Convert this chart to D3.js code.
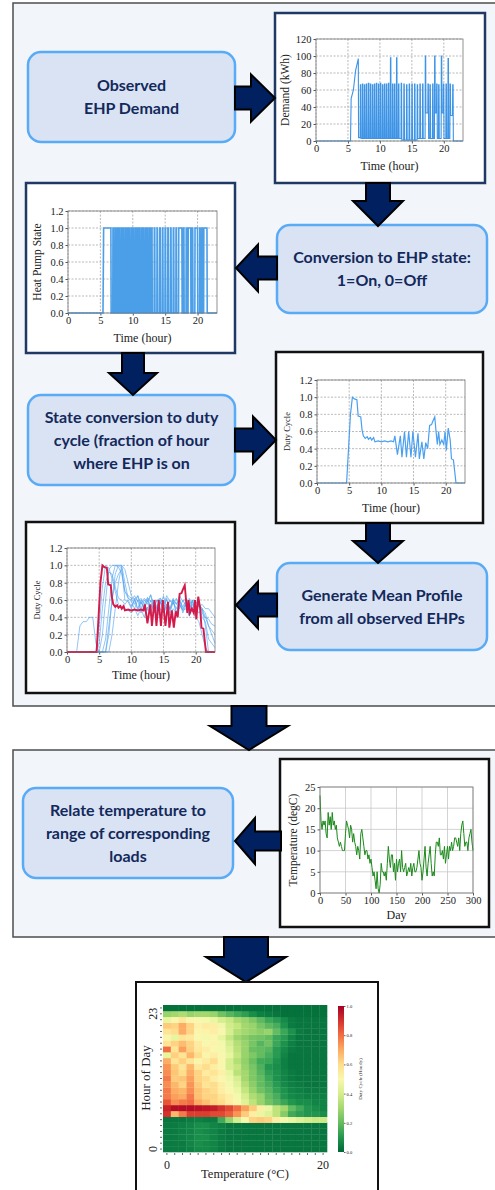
<!DOCTYPE html>
<html>
<head>
<meta charset="utf-8">
<script src="https://cdn.jsdelivr.net/npm/d3@7"></script>
<style>
  body { margin: 0; background: #fff; }
  svg { display: block; }
  .box text { font-family: Lato, "Open Sans", sans-serif; font-weight: bold; fill: #13295b; }
  .plot text { font-family: "Liberation Serif", "DejaVu Serif", serif; fill: #222; }
</style>
</head>
<body>
<svg id="fig" width="495" height="1190"></svg>
<script>
// ---------- data ----------

// observed demand: warm-up ramp, then on/off pulses
var rampHours = [0, 5.4, 5.5, 5.85, 6.2, 6.62, 6.66];
var rampKwh   = [0, 0, 50, 60, 83, 97, 4];
var pulseHours = [6.91, 7.23, 7.54, 7.85, 8.17, 8.48, 8.80, 9.11, 9.42, 9.74,
  10.05, 10.37, 10.68, 10.99, 11.31, 11.62, 11.94, 12.25, 12.57, 12.88,
  13.30, 13.72, 14.14, 14.55, 14.97, 15.39, 15.81, 16.23, 16.65, 17.07,
  17.49, 17.80, 18.22, 18.53, 18.85, 19.16, 19.58, 19.90, 20.31, 20.63,
  20.94, 21.36];
var pulsePeakKwh = [66, 67, 66, 67, 68, 67, 66, 67, 68, 67,
  68, 66, 67, 67, 68, 98, 67, 67, 98, 67,
  68, 67, 66, 67, 67, 67, 66, 67, 67, 100,
  67, 66, 67, 100, 67, 66, 100, 67, 67, 97,
  67, 66];
var pulseLowKwh = [3, 3, 3, 3, 3, 3, 3, 3, 3, 3,
  3, 3, 3, 3, 3, 3, 3, 3, 3, 3,
  1, 1, 1, 1, 1, 1, 3, 3, 3, 33,
  3, 3, 3, 33, 3, 3, 33, 3, 3, 3,
  30, 0];

// duty cycle of the single EHP
var dutyHours = [0, 4.6, 5.2, 5.5, 5.8, 6.2, 6.4, 6.8, 7.0, 7.2, 7.5, 7.8, 8.0, 8.3, 8.5, 8.8,
  9.0, 9.5, 10, 10.5, 11, 11.5, 11.9, 12.1, 12.5, 12.95, 13.2, 13.6, 13.9, 14.25, 14.6,
  14.9, 15.3, 15.7, 15.9, 16.3, 16.6, 16.9, 17.2, 17.5, 17.8, 18.0, 18.3, 18.5, 18.7,
  18.9, 19.1, 19.4, 19.7, 19.9, 20.1, 20.4, 20.7, 20.9, 21.2, 21.6, 23];
var dutyCycle = [0, 0, 0.8, 1.0, 0.98, 0.97, 0.78, 0.77, 0.62, 0.55, 0.52, 0.54, 0.51, 0.53, 0.5, 0.53,
  0.48, 0.49, 0.48, 0.49, 0.48, 0.49, 0.48, 0.55, 0.33, 0.55, 0.3, 0.6, 0.3, 0.6, 0.3,
  0.6, 0.3, 0.58, 0.28, 0.48, 0.28, 0.47, 0.4, 0.67, 0.68, 0.72, 0.77, 0.6, 0.45,
  0.6, 0.45, 0.5, 0.45, 0.6, 0.38, 0.64, 0.5, 0.28, 0.27, 0, 0];

// other observed EHPs, half-hourly from 0 to 23 h
var ehpA = [0,0,0,0,0,0,0,0,0,0,0, 0.2,0.6,0.95,1.0,1.0,0.98,0.9,0.7,0.62,
  0.6,0.65,0.58,0.62,0.55,0.63,0.58,0.6,0.52,0.62, 0.55,0.6,0.5,0.62,0.55,0.6,0.52,0.6,0.48,0.6,
  0.5,0.58,0.45,0.4,0.3,0.25,0.2];
var ehpB = [0,0,0,0,0,0,0,0,0,0,0,0, 0.15,0.5,0.85,1.0,1.0,0.97,0.6,0.58,
  0.5,0.6,0.48,0.58,0.5,0.6,0.45,0.58,0.5,0.6, 0.48,0.55,0.45,0.58,0.5,0.6,0.45,0.55,0.5,0.6,
  0.45,0.55,0.5,0.3,0,0,0];
var ehpC = [0,0,0,0,0,0,0,0,0,0, 0.1,0.5,0.8,0.92,0.9,0.75,0.62,0.6,0.55,0.6,
  0.52,0.62,0.5,0.6,0.48,0.62,0.5,0.6,0.45,0.58, 0.5,0.62,0.48,0.58,0.45,0.6,0.5,0.55,0.42,0.58,
  0.48,0.55,0.4,0.35,0.15,0.1,0.05];
var ehpD = [0,0,0,0,0.3,0.35,0.35,0.4,0.4,0.1, 0,0,0,0.2,0.6,0.9,1.0,1.0,0.8,0.62,
  0.58,0.5,0.6,0.45,0.55,0.48,0.6,0.45,0.52,0.58, 0.45,0.55,0.5,0.6,0.45,0.55,0.48,0.58,0.42,0.55,
  0.5,0.45,0.5,0.4,0.38,0.32,0.3];
var ehpE = [0,0,0,0,0,0,0,0,0,0,0,0,0, 0.3,0.6,0.8,0.9,0.95,0.7,0.65,
  0.62,0.55,0.65,0.5,0.6,0.55,0.66,0.5,0.6,0.55, 0.65,0.5,0.6,0.55,0.62,0.5,0.6,0.52,0.62,0.5,
  0.58,0.52,0.55,0.5,0.5,0.45,0.4];
var ehpF = [0,0,0,0,0,0,0,0,0,0, 0.3,0.75,1.0,0.97,0.85,0.7,0.55,0.5,0.5,0.48,
  0.45,0.5,0.42,0.5,0.4,0.52,0.42,0.48,0.4,0.5, 0.45,0.52,0.42,0.5,0.45,0.55,0.48,0.5,0.42,0.5,
  0.4,0.35,0.2,0.05,0,0,0];
var ehpG = [0,0,0,0,0,0,0,0,0,0,0,0,0,0, 0.2,0.5,0.8,1.0,0.95,0.8,
  0.65,0.6,0.65,0.55,0.62,0.58,0.66,0.55,0.6,0.62, 0.55,0.65,0.58,0.6,0.55,0.65,0.58,0.62,0.55,0.6,
  0.58,0.55,0.5,0.45,0.3,0.2,0.1];
var halfHours = d3.range(0, 23.01, 0.5);

// daily mean temperature, every 2 days from day 0 to 300
var tempStepDays = 2;
var temperature = [23,17,15,17,16,17,14,13,19,16, 18,15,19,16,17,15,16,13,12,11,
  12,11,10,10,10,14,17,16,15,13, 16,15,12,14,12,11,9,11,10,8,
  14,15,13,11,9,10,10,8,9,7, 8,6,4,5,3,1,5,1,0,2,
  7,
  5,5,4,5,3,7,11,8,6,9, 9,5,7,3,8,5,7,8,5,10,
  6,5,6,7,4,5,6,5,7,4, 6,7,5,5,6,8,10,7,6,3,
  5,8,11,6,4,7,9,11,7,4, 5,4,9,12,12,11,13,9,9,10,
  8,11,7,9,11,8,11,10,12,10, 11,13,13,12,11,13,10,14,16,17,
  14,11,12,12,10,13,14,15,12,10];

// duty cycle (hourly) by hour of day (rows, 0..24) and temperature (columns, 0..20 degC)
var heatTemps = d3.range(0, 21);
var heatHours = d3.range(0, 25);
var dutyByHour = [
  [0.04,0.04,0.04,0.05,0.07,0.07,0.06,0.04,0.03,0.03,0.03,0.03,0.03,0.03,0.03,0.03,0.03,0.03,0.03,0.03,0.03],
  [0.04,0.04,0.04,0.06,0.08,0.07,0.06,0.04,0.03,0.03,0.03,0.03,0.03,0.03,0.03,0.03,0.03,0.03,0.03,0.03,0.03],
  [0.04,0.04,0.05,0.06,0.08,0.08,0.06,0.04,0.03,0.03,0.03,0.03,0.03,0.03,0.03,0.03,0.03,0.03,0.03,0.03,0.03],
  [0.04,0.04,0.05,0.06,0.08,0.07,0.06,0.04,0.03,0.03,0.03,0.03,0.03,0.03,0.03,0.03,0.03,0.03,0.03,0.03,0.03],
  [0.04,0.04,0.05,0.06,0.08,0.08,0.06,0.05,0.03,0.03,0.03,0.03,0.03,0.03,0.03,0.03,0.03,0.03,0.03,0.03,0.03],
  [0.03,0.03,0.03,0.04,0.05,0.04,0.04,0.15,0.28,0.4,0.5,0.62,0.64,0.62,0.55,0.48,0.45,0.42,0.4,0.38,0.38],
  [0.9,0.68,0.78,0.88,0.88,0.88,0.86,0.86,0.82,0.74,0.64,0.55,0.45,0.42,0.35,0.25,0.15,0.12,0.1,0.1,0.08],
  [0.93,0.97,0.97,0.97,0.96,0.95,0.94,0.9,0.86,0.8,0.72,0.64,0.55,0.45,0.35,0.3,0.2,0.15,0.1,0.08,0.06],
  [0.84,0.75,0.78,0.8,0.7,0.66,0.62,0.6,0.55,0.5,0.42,0.35,0.28,0.22,0.18,0.14,0.1,0.08,0.08,0.06,0.06],
  [0.78,0.72,0.7,0.78,0.66,0.62,0.62,0.58,0.55,0.48,0.4,0.32,0.28,0.2,0.16,0.1,0.07,0.06,0.05,0.05,0.05],
  [0.78,0.7,0.68,0.75,0.66,0.62,0.6,0.55,0.5,0.45,0.36,0.28,0.22,0.18,0.13,0.09,0.06,0.05,0.04,0.04,0.04],
  [0.75,0.68,0.62,0.74,0.64,0.58,0.6,0.55,0.48,0.42,0.33,0.26,0.2,0.16,0.11,0.07,0.05,0.04,0.03,0.03,0.03],
  [0.78,0.64,0.65,0.72,0.62,0.6,0.55,0.5,0.46,0.4,0.3,0.24,0.2,0.14,0.09,0.06,0.04,0.03,0.03,0.03,0.03],
  [0.75,0.65,0.6,0.7,0.62,0.56,0.58,0.54,0.44,0.34,0.3,0.24,0.18,0.12,0.09,0.06,0.04,0.03,0.03,0.03,0.03],
  [0.74,0.64,0.58,0.68,0.57,0.6,0.55,0.5,0.4,0.36,0.28,0.23,0.17,0.1,0.08,0.05,0.03,0.03,0.03,0.03,0.03],
  [0.7,0.58,0.63,0.58,0.52,0.56,0.6,0.5,0.4,0.33,0.27,0.21,0.15,0.14,0.09,0.05,0.03,0.03,0.03,0.03,0.03],
  [0.44,0.63,0.58,0.68,0.6,0.52,0.55,0.5,0.44,0.36,0.28,0.24,0.2,0.16,0.11,0.06,0.03,0.03,0.03,0.03,0.03],
  [0.8,0.58,0.72,0.63,0.57,0.55,0.5,0.48,0.42,0.34,0.28,0.21,0.2,0.18,0.11,0.07,0.04,0.03,0.03,0.03,0.03],
  [0.58,0.62,0.67,0.62,0.56,0.5,0.52,0.48,0.4,0.33,0.28,0.23,0.18,0.22,0.14,0.09,0.05,0.03,0.03,0.03,0.03],
  [0.52,0.44,0.58,0.57,0.5,0.48,0.5,0.44,0.36,0.29,0.26,0.23,0.22,0.2,0.14,0.11,0.06,0.03,0.03,0.03,0.03],
  [0.58,0.6,0.7,0.62,0.52,0.53,0.55,0.5,0.4,0.33,0.3,0.28,0.26,0.28,0.2,0.14,0.09,0.04,0.03,0.03,0.03],
  [0.64,0.62,0.7,0.62,0.54,0.56,0.55,0.47,0.39,0.36,0.3,0.28,0.23,0.19,0.16,0.09,0.04,0.03,0.03,0.03,0.03],
  [0.44,0.52,0.57,0.52,0.5,0.48,0.45,0.4,0.37,0.31,0.28,0.24,0.19,0.14,0.11,0.07,0.04,0.03,0.03,0.03,0.03],
  [0.28,0.3,0.32,0.28,0.3,0.3,0.28,0.22,0.18,0.15,0.12,0.08,0.05,0.04,0.03,0.02,0.02,0.02,0.02,0.02,0.02],
  [0.02,0.02,0.02,0.02,0.02,0.02,0.02,0.02,0.02,0.02,0.02,0.02,0.02,0.02,0.02,0.02,0.02,0.02,0.02,0.02,0.02]
];
var colorbarTicks = [0, 0.2, 0.4, 0.6, 0.8, 1.0];

// ---------- drawing ----------
var svg = d3.select('#fig');
var NAVY = '#002060';

// background panels
svg.append('rect').attr('x', 13).attr('y', 3).attr('width', 500).attr('height', 703)
  .attr('fill', '#f2f6fb').attr('stroke', '#4d4d4d').attr('stroke-width', 1.5);
svg.append('rect').attr('x', 13).attr('y', 750).attr('width', 500).attr('height', 187)
  .attr('fill', '#f2f6fb').attr('stroke', '#4d4d4d').attr('stroke-width', 1.5);

// rounded process boxes
function flowBox(x, y, w, h, lines) {
  var g = svg.append('g').attr('class', 'box');
  g.append('rect').attr('x', x).attr('y', y).attr('width', w).attr('height', h)
    .attr('rx', 13).attr('fill', '#dae3f3').attr('stroke', '#5aabf6').attr('stroke-width', 2.5);
  var lh = 23, y0 = y + h / 2 - (lines.length - 1) * lh / 2 + 5.5;
  g.selectAll('text').data(lines).enter().append('text')
    .attr('x', x + w / 2).attr('y', function (d, i) { return y0 + i * lh; })
    .attr('text-anchor', 'middle').attr('font-size', 16).text(function (d) { return d; });
}

// block arrows
function arrow(dir, a, b, c, shaft, head, headLen) {
  // dir 'r'/'l': a=x start, b=x tip, c=cy ; dir 'd': a=y start, b=y tip, c=cx
  var s = shaft / 2, hh = head / 2, pts;
  if (dir === 'r') pts = [[a, c - s], [b - headLen, c - s], [b - headLen, c - hh], [b, c], [b - headLen, c + hh], [b - headLen, c + s], [a, c + s]];
  if (dir === 'l') pts = [[a, c - s], [b + headLen, c - s], [b + headLen, c - hh], [b, c], [b + headLen, c + hh], [b + headLen, c + s], [a, c + s]];
  if (dir === 'd') pts = [[c - s, a], [c - s, b - headLen], [c - hh, b - headLen], [c, b], [c + hh, b - headLen], [c + s, b - headLen], [c + s, a]];
  svg.append('polygon').attr('points', pts.map(function (p) { return p.join(','); }).join(' '))
    .attr('fill', NAVY).attr('stroke', '#000').attr('stroke-width', 2).attr('stroke-linejoin', 'miter');
}

// small framed chart with grid and axes
function miniChart(cfg) {
  var g = svg.append('g').attr('class', 'plot');
  g.append('rect').attr('x', cfg.frame[0]).attr('y', cfg.frame[1])
    .attr('width', cfg.frame[2] - cfg.frame[0]).attr('height', cfg.frame[3] - cfg.frame[1])
    .attr('fill', '#fff').attr('stroke', cfg.frameColor).attr('stroke-width', 2.5);
  var x = d3.scaleLinear().domain(cfg.xDomain).range([cfg.plot[0], cfg.plot[2]]);
  var y = d3.scaleLinear().domain(cfg.yDomain).range([cfg.plot[3], cfg.plot[1]]);
  var grid = g.append('g').attr('stroke', cfg.gridColor).attr('stroke-width', cfg.gridWidth)
    .attr('stroke-dasharray', cfg.gridDash);
  grid.selectAll('.gx').data(cfg.xTicks).enter().append('line')
    .attr('x1', x).attr('x2', x).attr('y1', cfg.plot[1]).attr('y2', cfg.plot[3]);
  grid.selectAll('.gy').data(cfg.yTicks).enter().append('line')
    .attr('y1', y).attr('y2', y).attr('x1', cfg.plot[0]).attr('x2', cfg.plot[2]);
  var ax = g.append('g').attr('transform', 'translate(0,' + cfg.plot[3] + ')')
    .call(d3.axisBottom(x).tickValues(cfg.xTicks).tickSize(2.5).tickPadding(1.5));
  var ay = g.append('g').attr('transform', 'translate(' + cfg.plot[0] + ',0)')
    .call(d3.axisLeft(y).tickValues(cfg.yTicks).tickSize(2.5).tickPadding(2).tickFormat(cfg.yFormat));
  [ax, ay].forEach(function (a) {
    a.select('.domain').remove();
    a.selectAll('text').attr('font-size', cfg.tickSize).attr('font-family', '"Liberation Serif", serif').attr('fill', '#222');
    a.selectAll('line').attr('stroke', '#555');
  });
  g.append('text').attr('x', (cfg.plot[0] + cfg.plot[2]) / 2).attr('y', cfg.xLabelY)
    .attr('text-anchor', 'middle').attr('font-size', cfg.labelSize).text(cfg.xLabel);
  g.append('text').attr('transform', 'translate(' + cfg.yLabelX + ',' + (cfg.plot[1] + cfg.plot[3]) / 2 + ') rotate(-90)')
    .attr('text-anchor', 'middle').attr('font-size', cfg.yLabelSize || cfg.labelSize).text(cfg.yLabel);
  var body = g.append('g');
  g.append('rect').attr('x', cfg.plot[0]).attr('y', cfg.plot[1])
    .attr('width', cfg.plot[2] - cfg.plot[0]).attr('height', cfg.plot[3] - cfg.plot[1])
    .attr('fill', 'none').attr('stroke', '#777').attr('stroke-width', 0.8);
  return { g: body, x: x, y: y };
}

var dashed = { gridColor: '#8a8a8a', gridWidth: 0.6, gridDash: '2,1.5', tickSize: 10.5, labelSize: 12 };
function merge(a, b) { return Object.assign({}, a, b); }
var hourTicks = [0, 5, 10, 15, 20];
var fmt1 = d3.format('.1f');

// build demand series from ramp + pulses
var demand = rampHours.map(function (h, i) { return [h, rampKwh[i]]; });
pulseHours.forEach(function (h, i) {
  var prevLow = demand[demand.length - 1][1];
  demand.push([h, prevLow], [h + 0.03, pulsePeakKwh[i]], [h + 0.09, pulsePeakKwh[i]], [h + 0.13, pulseLowKwh[i]]);
});
demand.push([23, 0]);
var hpState = demand.map(function (d) { return [d[0], d[1] > 10 ? 1 : 0]; });

// chart 1: observed demand
var c1 = miniChart(merge(dashed, {
  frame: [275, 13, 485, 183], frameColor: '#1f3864', plot: [316, 39, 463, 141],
  xDomain: [0, 23], yDomain: [0, 120], xTicks: hourTicks, yTicks: [0, 20, 40, 60, 80, 100, 120],
  yFormat: d3.format('d'), xLabel: 'Time (hour)', xLabelY: 170, yLabel: 'Demand (kWh)', yLabelX: 289, yLabelSize: 11.5
}));
c1.g.append('path').datum(demand).attr('fill', 'none').attr('stroke', '#3d94e6').attr('stroke-width', 1.1)
  .attr('d', d3.line().x(function (d) { return c1.x(d[0]); }).y(function (d) { return c1.y(d[1]); }));

// chart 2: heat pump state
var c2 = miniChart(merge(dashed, {
  frame: [26, 183, 235, 353], frameColor: '#1f3864', plot: [68, 211, 217, 313],
  xDomain: [0, 23], yDomain: [0, 1.2], xTicks: hourTicks, yTicks: [0, 0.2, 0.4, 0.6, 0.8, 1.0, 1.2],
  yFormat: fmt1, xLabel: 'Time (hour)', xLabelY: 342, yLabel: 'Heat Pump State', yLabelX: 41, yLabelSize: 11.5
}));
c2.g.append('path').datum(hpState).attr('fill', 'none').attr('stroke', '#4b9ee8').attr('stroke-width', 1.6)
  .attr('d', d3.line().x(function (d) { return c2.x(d[0]); }).y(function (d) { return c2.y(d[1]); }));

// chart 3: duty cycle
var duty = dutyHours.map(function (h, i) { return [h, dutyCycle[i]]; });
var c3 = miniChart(merge(dashed, {
  frame: [276, 352, 483, 523], frameColor: '#111', plot: [317, 380, 465, 483],
  xDomain: [0, 23], yDomain: [0, 1.2], xTicks: hourTicks, yTicks: [0, 0.2, 0.4, 0.6, 0.8, 1.0, 1.2],
  yFormat: fmt1, xLabel: 'Time (hour)', xLabelY: 512, yLabel: 'Duty Cycle', yLabelX: 290, yLabelSize: 8.5
}));
c3.g.append('path').datum(duty).attr('fill', 'none').attr('stroke', '#4a9ff0').attr('stroke-width', 1.2)
  .attr('d', d3.line().x(function (d) { return c3.x(d[0]); }).y(function (d) { return c3.y(d[1]); }));

// chart 4: all EHPs with the single profile highlighted
var c4 = miniChart(merge(dashed, {
  frame: [26, 522, 235, 693], frameColor: '#111', plot: [67, 548, 215, 652],
  xDomain: [0, 23], yDomain: [0, 1.2], xTicks: hourTicks, yTicks: [0, 0.2, 0.4, 0.6, 0.8, 1.0, 1.2],
  yFormat: fmt1, xLabel: 'Time (hour)', xLabelY: 679, yLabel: 'Duty Cycle', yLabelX: 40, yLabelSize: 8.5
}));
var halfLine = d3.line().x(function (d, i) { return c4.x(halfHours[i]); }).y(function (d) { return c4.y(d); });
c4.g.selectAll('.ehp').data([ehpA, ehpB, ehpC, ehpD, ehpE, ehpF, ehpG]).enter().append('path')
  .attr('fill', 'none').attr('stroke', '#4fa2ef').attr('stroke-opacity', 0.7).attr('stroke-width', 0.9)
  .attr('d', halfLine);
c4.g.append('path').datum(duty).attr('fill', 'none').attr('stroke', '#d4194b').attr('stroke-width', 1.9)
  .attr('d', d3.line().x(function (d) { return c4.x(d[0]); }).y(function (d) { return c4.y(d[1]); }));

// chart 5: temperature
var c5 = miniChart({
  frame: [280, 759, 489, 927], frameColor: '#111', plot: [320, 787, 473, 893],
  gridColor: '#c8c8c8', gridWidth: 0.8, gridDash: null, tickSize: 10.5, labelSize: 12,
  xDomain: [0, 300], yDomain: [0, 25], xTicks: [0, 50, 100, 150, 200, 250, 300], yTicks: [0, 5, 10, 15, 20, 25],
  yFormat: d3.format('d'), xLabel: 'Day', xLabelY: 919, yLabel: 'Temperature (degC)', yLabelX: 297, yLabelSize: 11.5
});
c5.g.append('path').datum(temperature).attr('fill', 'none').attr('stroke', '#1b8a1b').attr('stroke-width', 1)
  .attr('d', d3.line().x(function (d, i) { return c5.x(i * tempStepDays); }).y(function (d) { return c5.y(d); }));

// process boxes
flowBox(28, 52, 207, 90, ['Observed', 'EHP Demand']);
flowBox(277, 225, 210, 88, ['Conversion to EHP state:', '1=On, 0=Off']);
flowBox(28, 395, 207, 90, ['State conversion to duty', 'cycle (fraction of hour', 'where EHP is on']);
flowBox(277, 563, 210, 87, ['Generate Mean Profile', 'from all observed EHPs']);
flowBox(23, 788, 210, 90, ['Relate temperature to', 'range of corresponding', 'loads']);

// arrows
arrow('r', 235, 275, 98, 23, 47, 24);
arrow('d', 183, 226, 378, 24, 50, 25);
arrow('l', 277, 236, 268, 23, 47, 22);
arrow('d', 353, 395, 133, 22, 48, 22);
arrow('r', 235, 276, 440, 23, 47, 23);
arrow('d', 523, 563, 378, 24, 50, 22);
arrow('l', 277, 236, 605, 23, 47, 22);
arrow('d', 706, 750, 249, 35, 78, 24);
arrow('l', 281, 235, 841, 19, 46, 20);
arrow('d', 937, 982, 246, 44, 80, 25);

// heatmap
var hm = svg.append('g').attr('class', 'plot');
hm.append('rect').attr('x', 136).attr('y', 982).attr('width', 242).attr('height', 215)
  .attr('fill', '#fff').attr('stroke', '#111').attr('stroke-width', 2);
var hx = d3.scaleBand().domain(heatTemps).range([163, 327]);
var hy = d3.scaleBand().domain(heatHours).range([1152, 1005]);
var heatColor = function (v) { return d3.interpolateRdYlGn(1 - v); };
var cells = [];
dutyByHour.forEach(function (row, h) { row.forEach(function (v, t) { cells.push({ h: h, t: t, v: v }); }); });
hm.selectAll('.cell').data(cells).enter().append('rect')
  .attr('x', function (d) { return hx(d.t); }).attr('y', function (d) { return hy(d.h); })
  .attr('width', hx.bandwidth() + 0.3).attr('height', hy.bandwidth() + 0.3)
  .attr('fill', function (d) { return heatColor(d.v); });
// ticks
var hax = hm.append('g').attr('transform', 'translate(0,1153)')
  .call(d3.axisBottom(hx).tickSize(2).tickFormat(function (d) { return d === 0 || d === 20 ? d : ''; }));
var hay = hm.append('g').attr('transform', 'translate(162,0)')
  .call(d3.axisLeft(hy).tickSize(2).tickFormat(function (d) { return d === 0 || d === 23 ? d : ''; }));
[hax, hay].forEach(function (a) {
  a.select('.domain').remove();
  a.selectAll('line').attr('stroke', '#666');
  a.selectAll('text').attr('font-size', 12).attr('font-family', '"Liberation Serif", serif').attr('fill', '#222');
});
hax.selectAll('text').attr('dy', '0.9em');
hay.selectAll('text').attr('text-anchor', 'middle').attr('x', 0).attr('y', 0).attr('dy', 0)
  .attr('transform', 'translate(-5,0) rotate(-90)');
hm.append('text').attr('transform', 'translate(150,1078) rotate(-90)').attr('text-anchor', 'middle')
  .attr('font-size', 13).text('Hour of Day');
hm.append('text').attr('x', 245).attr('y', 1178).attr('text-anchor', 'middle')
  .attr('font-size', 12.5).text('Temperature (°C)');
// colour bar
var defs = svg.append('defs');
var grad = defs.append('linearGradient').attr('id', 'cbar').attr('x1', 0).attr('y1', 1).attr('x2', 0).attr('y2', 0);
grad.selectAll('stop').data(d3.range(0, 1.01, 0.1)).enter().append('stop')
  .attr('offset', function (d) { return d; }).attr('stop-color', heatColor);
var cy = d3.scaleLinear().domain([0, 1]).range([1152, 1006]);
hm.append('rect').attr('x', 338).attr('y', 1006).attr('width', 6).attr('height', 146).attr('fill', 'url(#cbar)');
var cax = hm.append('g').attr('transform', 'translate(344,0)')
  .call(d3.axisRight(cy).tickValues(colorbarTicks).tickSize(1.5).tickPadding(1).tickFormat(fmt1));
cax.select('.domain').remove();
cax.selectAll('text').attr('font-size', 4.5).attr('fill', '#444');
cax.selectAll('line').attr('stroke', '#666');
hm.append('text').attr('transform', 'translate(362,1079) rotate(-90)').attr('text-anchor', 'middle')
  .attr('font-size', 5).attr('fill', '#444').text('Duty Cycle (Hourly)');
</script>
</body>
</html>
